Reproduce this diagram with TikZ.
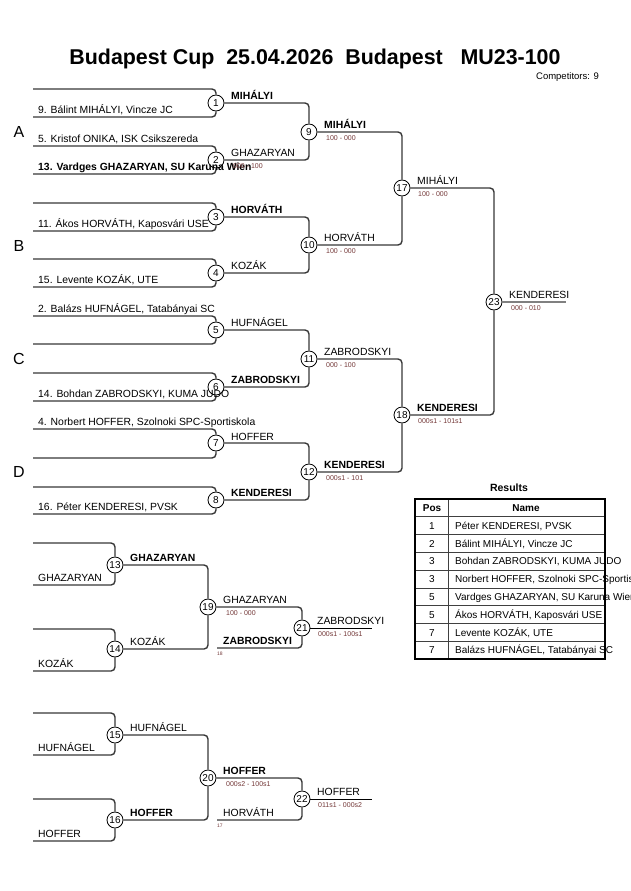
\documentclass[tikz,border=0pt]{standalone}
\usepackage{fontspec}
\setmainfont{Liberation Sans}
\definecolor{scorecol}{RGB}{115,55,55}
\definecolor{linecol}{RGB}{55,55,55}
\begin{document}
\begin{tikzpicture}[x=1pt,y=-1pt,
  br/.style={draw=linecol, line width=1.4pt, rounded corners=4pt},
  fin/.style={draw=black!50, line width=2.4pt},
  endl/.style={draw=black, line width=1pt},
  mc/.style={circle, draw=black, line width=0.8pt, fill=white, minimum size=16pt, inner sep=0pt, font=\fontsize{10}{10}\selectfont},
  nm/.style={anchor=base west, inner sep=0pt, font=\fontsize{10.4}{12}\selectfont},
  nmb/.style={anchor=base west, inner sep=0pt, font=\fontsize{10.4}{12}\selectfont\bfseries},
  sc/.style={anchor=base west, inner sep=0pt, text=scorecol, font=\fontsize{7}{8}\selectfont},
  tn/.style={anchor=base west, inner sep=0pt, text=scorecol, font=\fontsize{5}{5}\selectfont},
  grp/.style={anchor=base, inner sep=0pt, font=\fontsize{16}{16}\selectfont},
  tt/.style={inner sep=0pt, font=\fontsize{10}{12}\selectfont}]
\useasboundingbox (0,0) rectangle (630,891);
\clip (0,0) rectangle (630,891);
% title
\node[anchor=base, inner sep=0pt, font=\fontsize{21.4}{24}\selectfont\bfseries] (title) at (315,65) {Budapest Cup\ \ 25.04.2026\ \ Budapest\ \ \ MU23-100};
\node[anchor=base east, inner sep=0pt, font=\fontsize{9.5}{11}\selectfont] (comp) at (599,79) {Competitors: 9};
% group letters
\node[grp] (gA) at (19,137) {A};
\node[grp] (gB) at (19,251) {B};
\node[grp] (gC) at (19,364) {C};
\node[grp] (gD) at (19,477) {D};
% match circles
\node[mc] (m1) at (216,103) {1};
\node[mc] (m2) at (216,160) {2};
\node[mc] (m3) at (216,217) {3};
\node[mc] (m4) at (216,273) {4};
\node[mc] (m5) at (216,330) {5};
\node[mc] (m6) at (216,387) {6};
\node[mc] (m7) at (216,443) {7};
\node[mc] (m8) at (216,500) {8};
\node[mc] (m9) at (309,132) {9};
\node[mc] (m10) at (309,245) {10};
\node[mc] (m11) at (309,359) {11};
\node[mc] (m12) at (309,472) {12};
\node[mc] (m17) at (402,188) {17};
\node[mc] (m18) at (402,415) {18};
\node[mc] (m23) at (494,302) {23};
\node[mc] (m13) at (115,565) {13};
\node[mc] (m14) at (115,649) {14};
\node[mc] (m19) at (208,607) {19};
\node[mc] (m21) at (302,628) {21};
\node[mc] (m15) at (115,735) {15};
\node[mc] (m16) at (115,820) {16};
\node[mc] (m20) at (208,778) {20};
\node[mc] (m22) at (302,799) {22};
% entry line starts
\coordinate (s1a) at (33,89);  \coordinate (s1b) at (33,117);
\coordinate (s2a) at (33,146); \coordinate (s2b) at (33,174);
\coordinate (s3a) at (33,203); \coordinate (s3b) at (33,231);
\coordinate (s4a) at (33,259); \coordinate (s4b) at (33,287);
\coordinate (s5a) at (33,316); \coordinate (s5b) at (33,344);
\coordinate (s6a) at (33,373); \coordinate (s6b) at (33,401);
\coordinate (s7a) at (33,429); \coordinate (s7b) at (33,458);
\coordinate (s8a) at (33,487); \coordinate (s8b) at (33,514);
\coordinate (s13a) at (33,543); \coordinate (s13b) at (33,585);
\coordinate (s14a) at (33,629); \coordinate (s14b) at (33,671);
\coordinate (s15a) at (33,713); \coordinate (s15b) at (33,755);
\coordinate (s16a) at (33,799); \coordinate (s16b) at (33,841);
\coordinate (r18) at (217,648);
\coordinate (r17) at (217,820);
\coordinate (e21) at (372,628);
\coordinate (e22) at (372,799);
\coordinate (e23) at (566,302);
% entry brackets
\foreach \m in {1,2,3,4,5,6,7,8,13,14,15,16}{
  \draw[br] (s\m a) -| (m\m);
  \draw[br] (s\m b) -| (m\m);
}
% winner connectors
\draw[br] (m1) -| (m9);  \draw[br] (m2) -| (m9);
\draw[br] (m3) -| (m10); \draw[br] (m4) -| (m10);
\draw[br] (m5) -| (m11); \draw[br] (m6) -| (m11);
\draw[br] (m7) -| (m12); \draw[br] (m8) -| (m12);
\draw[br] (m9) -| (m17); \draw[br] (m10) -| (m17);
\draw[br] (m11) -| (m18); \draw[br] (m12) -| (m18);
\draw[br] (m17) -| (m23); \draw[br] (m18) -| (m23);
\draw[fin] (m23) -- (e23);
\draw[br] (m13) -| (m19); \draw[br] (m14) -| (m19);
\draw[br] (m19) -| (m21); \draw[br] (r18) -| (m21);
\draw[endl] (m21) -- (e21);
\draw[br] (m15) -| (m20); \draw[br] (m16) -| (m20);
\draw[br] (m20) -| (m22); \draw[br] (r17) -| (m22);
\draw[endl] (m22) -- (e22);
% entrant names
\node[nm] (n1) at (38,113) {9. Bálint MIHÁLYI, Vincze JC};
\node[nm] (n2a) at (38,142) {5. Kristof ONIKA, ISK Csikszereda};
\node[nmb] (n2b) at (38,170) {13. Vardges GHAZARYAN, SU Karuna Wien};
\node[nm] (n3) at (38,227) {11. Ákos HORVÁTH, Kaposvári USE};
\node[nm] (n4) at (38,283) {15. Levente KOZÁK, UTE};
\node[nm] (n5) at (38,312) {2. Balázs HUFNÁGEL, Tatabányai SC};
\node[nm] (n6) at (38,397) {14. Bohdan ZABRODSKYI, KUMA JUDO};
\node[nm] (n7) at (38,425) {4. Norbert HOFFER, Szolnoki SPC-Sportiskola};
\node[nm] (n8) at (38,510) {16. Péter KENDERESI, PVSK};
\node[nm] (n13) at (38,581) {GHAZARYAN};
\node[nm] (n14) at (38,667) {KOZÁK};
\node[nm] (n15) at (38,751) {HUFNÁGEL};
\node[nm] (n16) at (38,837) {HOFFER};
% round 1 winners
\node[nmb] (w1) at (231,99) {MIHÁLYI};
\node[nm] (w2) at (231,156) {GHAZARYAN};
\node[sc] (c2) at (233,168) {000 - 100};
\node[nmb] (w3) at (231,213) {HORVÁTH};
\node[nm] (w4) at (231,269) {KOZÁK};
\node[nm] (w5) at (231,326) {HUFNÁGEL};
\node[nmb] (w6) at (231,383) {ZABRODSKYI};
\node[nm] (w7) at (231,440) {HOFFER};
\node[nmb] (w8) at (231,496) {KENDERESI};
% round 2
\node[nmb] (w9) at (324,128) {MIHÁLYI};
\node[sc] (c9) at (326,140) {100 - 000};
\node[nm] (w10) at (324,241) {HORVÁTH};
\node[sc] (c10) at (326,253) {100 - 000};
\node[nm] (w11) at (324,355) {ZABRODSKYI};
\node[sc] (c11) at (326,367) {000 - 100};
\node[nmb] (w12) at (324,468) {KENDERESI};
\node[sc] (c12) at (326,480) {000s1 - 101};
% round 3
\node[nm] (w17) at (417,184) {MIHÁLYI};
\node[sc] (c17) at (418,196) {100 - 000};
\node[nmb] (w18) at (417,411) {KENDERESI};
\node[sc] (c18) at (418,423) {000s1 - 101s1};
% final
\node[nm] (w23) at (509,298) {KENDERESI};
\node[sc] (c23) at (511,310) {000 - 010};
% repechage
\node[nmb] (w13) at (130,561) {GHAZARYAN};
\node[nm] (w14) at (130,645) {KOZÁK};
\node[nm] (w19) at (223,603) {GHAZARYAN};
\node[sc] (c19) at (226,615) {100 - 000};
\node[nmb] (l18) at (223,644) {ZABRODSKYI};
\node[tn] (t18) at (217,655) {18};
\node[nm] (w21) at (317,624) {ZABRODSKYI};
\node[sc] (c21) at (318,636) {000s1 - 100s1};
\node[nm] (w15) at (130,731) {HUFNÁGEL};
\node[nmb] (w16) at (130,816) {HOFFER};
\node[nmb] (w20) at (223,774) {HOFFER};
\node[sc] (c20) at (226,786) {000s2 - 100s1};
\node[nm] (l17) at (223,816) {HORVÁTH};
\node[tn] (t17) at (217,827) {17};
\node[nm] (w22) at (317,795) {HOFFER};
\node[sc] (c22) at (318,807) {011s1 - 000s2};
% results table
\node[anchor=base, inner sep=0pt, font=\fontsize{10.5}{12}\selectfont\bfseries] (res) at (509,491) {Results};
\node[tt, anchor=base, font=\fontsize{10}{12}\selectfont\bfseries] (hp) at (432,511.5) {Pos};
\node[tt, anchor=base, font=\fontsize{10}{12}\selectfont\bfseries] (hn) at (526,511.5) {Name};
\foreach \i/\p/\n in {1/1/{Péter KENDERESI, PVSK},2/2/{Bálint MIHÁLYI, Vincze JC},3/3/{Bohdan ZABRODSKYI, KUMA JUDO},4/3/{Norbert HOFFER, Szolnoki SPC-Sportiskola},5/5/{Vardges GHAZARYAN, SU Karuna Wien},6/5/{Ákos HORVÁTH, Kaposvári USE},7/7/{Levente KOZÁK, UTE},8/7/{Balázs HUFNÁGEL, Tatabányai SC}}{
  \node[tt, anchor=base] (p\i) at (432,{511.5+17.8*\i}) {\p};
  \node[tt, anchor=base west] (q\i) at (455,{511.5+17.8*\i}) {\n};
}
\foreach \k in {1,...,8}{
  \draw[draw=black!75, line width=0.9pt] (415,{499+17.8*\k}) -- (605,{499+17.8*\k});
}
\draw[draw=black!75, line width=0.9pt] (448,499) -- (448,659.2);
\draw[draw=black, line width=1.8pt] (415,499) rectangle (605,659.2);
\end{tikzpicture}
\end{document}
